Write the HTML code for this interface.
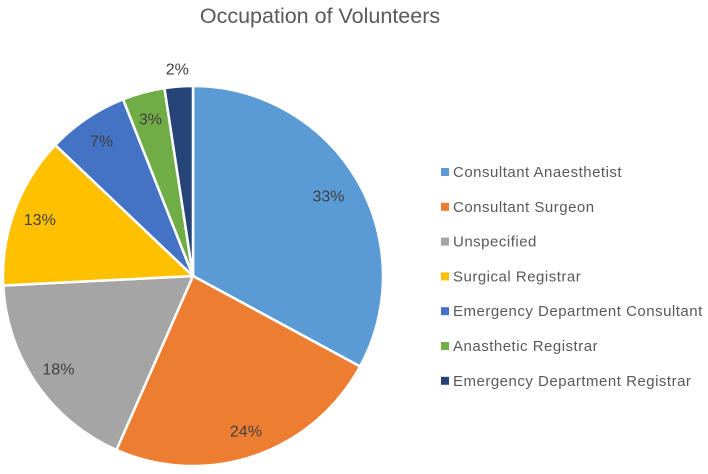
<!DOCTYPE html>
<html><head><meta charset="utf-8"><style>
body{margin:0;background:#fff;width:708px;height:469px;overflow:hidden;font-family:"Liberation Sans",sans-serif}
</style></head><body>
<svg width="708" height="469">
<text x="320" y="23" text-anchor="middle" font-size="21.5" fill="#595959">Occupation of Volunteers</text>
<g id="pie"></g>
<g id="legend"></g>
</svg>
<script>
const categories=["Consultant Anaesthetist","Consultant Surgeon","Unspecified","Surgical Registrar","Emergency Department Consultant","Anasthetic Registrar","Emergency Department Registrar"];
const values=[32.9,23.7,17.6,12.9,6.9,3.6,2.4];
const labels=["33%","24%","18%","13%","7%","3%","2%"];
const colors=["#5B9BD5","#ED7D31","#A5A5A5","#FFC000","#4472C4","#70AD47","#264478"];
const NS="http://www.w3.org/2000/svg";
const cx=193,cy=276,r=190;
const pie=document.getElementById('pie'),leg=document.getElementById('legend');
const total=values.reduce((a,b)=>a+b,0);
let a0=0;
function pt(a,rr){return [cx+rr*Math.sin(a),cy-rr*Math.cos(a)];}
values.forEach((v,i)=>{
  const a1=a0+v/total*2*Math.PI;
  const p0=pt(a0,r),p1=pt(a1,r);
  const path=document.createElementNS(NS,'path');
  path.setAttribute('d',`M${cx},${cy}L${p0[0]},${p0[1]}A${r},${r} 0 ${a1-a0>Math.PI?1:0} 1 ${p1[0]},${p1[1]}Z`);
  path.setAttribute('fill',colors[i]);path.setAttribute('stroke','#fff');path.setAttribute('stroke-width','2.5');
  
  
  pie.appendChild(path);
  const am=(a0+a1)/2;
  const lr=i==6?208:(i==0?0.83*r:0.86*r);
  const lp=pt(am,lr);
  const t=document.createElementNS(NS,'text');
  t.setAttribute('x',lp[0]);t.setAttribute('y',lp[1]+6);t.setAttribute('text-anchor','middle');
  t.setAttribute('font-size','16');t.setAttribute('fill','#404040');t.textContent=labels[i];
  
  
  pie.appendChild(t);
  a0=a1;
  const y=172+i*34.8;
  const sq=document.createElementNS(NS,'rect');
  sq.setAttribute('x',441);sq.setAttribute('y',y-4);sq.setAttribute('width',8);sq.setAttribute('height',8);sq.setAttribute('fill',colors[i]);
  
  
  leg.appendChild(sq);
  const lt=document.createElementNS(NS,'text');
  lt.setAttribute('x',453);lt.setAttribute('y',y+5);lt.setAttribute('font-size','15');lt.setAttribute('letter-spacing','0.5');lt.setAttribute('fill','#595959');lt.textContent=categories[i];
  
  
  leg.appendChild(lt);
});
</script>
</body></html>
